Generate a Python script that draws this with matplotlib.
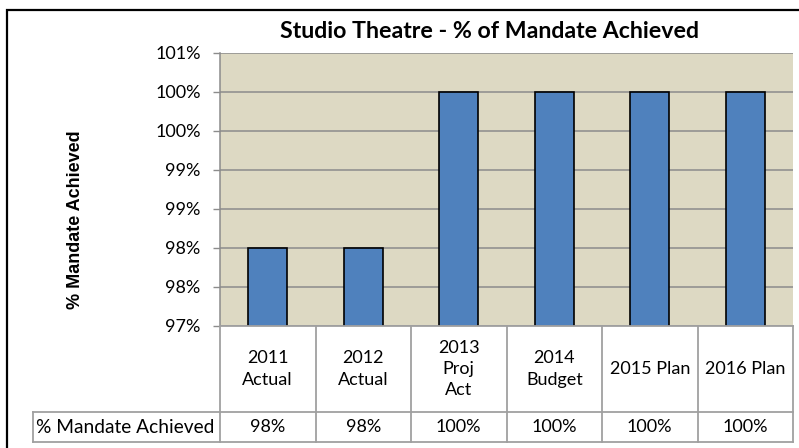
import math
import matplotlib
matplotlib.use('Agg')
import matplotlib.pyplot as plt
from matplotlib.ticker import FuncFormatter, MultipleLocator
from matplotlib.lines import Line2D
from matplotlib.transforms import blended_transform_factory

# data
categories = ['2011\nActual', '2012\nActual', '2013\nProj\nAct', '2014\nBudget', '2015 Plan', '2016 Plan']
values = [98, 98, 100, 100, 100, 100]
row_label = '% Mandate Achieved'
title = 'Studio Theatre - % of Mandate Achieved'
ylabel = '% Mandate Achieved'

W, H = 799, 448
font = 'Lato'
grid_c = '#8C8C8C'
table_c = '#A0A0A0'

fig = plt.figure(figsize=(W / 100, H / 100), dpi=100)
ax = fig.add_axes([220 / W, 122 / H, 573 / W, 273 / H])
ax.set_facecolor('#DDD9C3')

x = list(range(len(values)))
ax.bar(x, values, width=0.41, color='#4F81BD', edgecolor='black', linewidth=1.2, zorder=3)
ax.set_xlim(-0.5, len(values) - 0.5)
ax.set_ylim(97, 100.5)

# excel style percentage labels (round half up)
ax.yaxis.set_major_locator(MultipleLocator(0.5))
ax.yaxis.set_major_formatter(FuncFormatter(lambda v, p: '%d%%' % math.floor(v + 0.5 + 1e-9)))
ax.yaxis.grid(True, color=grid_c, linewidth=1.1)
ax.set_axisbelow(True)
ax.set_xticks([])
ax.tick_params(axis='y', length=5, width=1, color=grid_c, pad=9, labelsize=13)
for lab in ax.get_yticklabels():
    lab.set_fontfamily(font)

for s in ['top', 'right', 'bottom']:
    ax.spines[s].set_visible(False)
ax.spines['left'].set_color(grid_c)
ax.spines['left'].set_linewidth(1.1)

# data table under the plot: x in data coords, y in figure fraction
tr = blended_transform_factory(ax.transData, fig.transFigure)
y_top, y_mid, y_bot = 1 - 326 / H, 1 - 412 / H, 1 - 442 / H
x0, x1 = -0.5, len(values) - 0.5
lab_left = ax.transData.inverted().transform((33, 0))[0]

def hline(xa, xb, y):
    fig.add_artist(Line2D([xa, xb], [y, y], transform=tr, color=table_c, lw=1.3))

def vline(xv, ya, yb):
    fig.add_artist(Line2D([xv, xv], [ya, yb], transform=tr, color=table_c, lw=1.3))

hline(x0, x1, y_top)
hline(lab_left, x1, y_mid)
hline(lab_left, x1, y_bot)
for j in range(len(values) + 1):
    vline(j - 0.5, y_top, y_bot)
vline(lab_left, y_mid, y_bot)

for j, c in enumerate(categories):
    fig.text(j, (y_top + y_mid) / 2, c, transform=tr, ha='center', va='center',
             fontsize=13, fontfamily=font, linespacing=1.4)
for j, v in enumerate(values):
    fig.text(j, (y_mid + y_bot) / 2, '%d%%' % v, transform=tr, ha='center', va='center',
             fontsize=13, fontfamily=font)
fig.text(lab_left + 0.03, (y_mid + y_bot) / 2, row_label, transform=tr, ha='left', va='center',
         fontsize=13.8, fontfamily=font)

fig.text(490 / W, 1 - 32 / H, title, ha='center', va='center', fontsize=16.7,
         fontweight='bold', fontfamily=font)
fig.text(76 / W, 1 - 220 / H, ylabel, ha='center', va='center', rotation=90,
         fontsize=13, fontweight='bold', fontfamily='Liberation Sans')

# outer chart border (only top and left show in the crop)
fig.add_artist(plt.Rectangle((7 / W, -0.1), 1.0, 1.1 - 10 / H, transform=fig.transFigure,
                             fill=False, edgecolor='black', linewidth=1.6))

fig.savefig('out.png', dpi=100)
